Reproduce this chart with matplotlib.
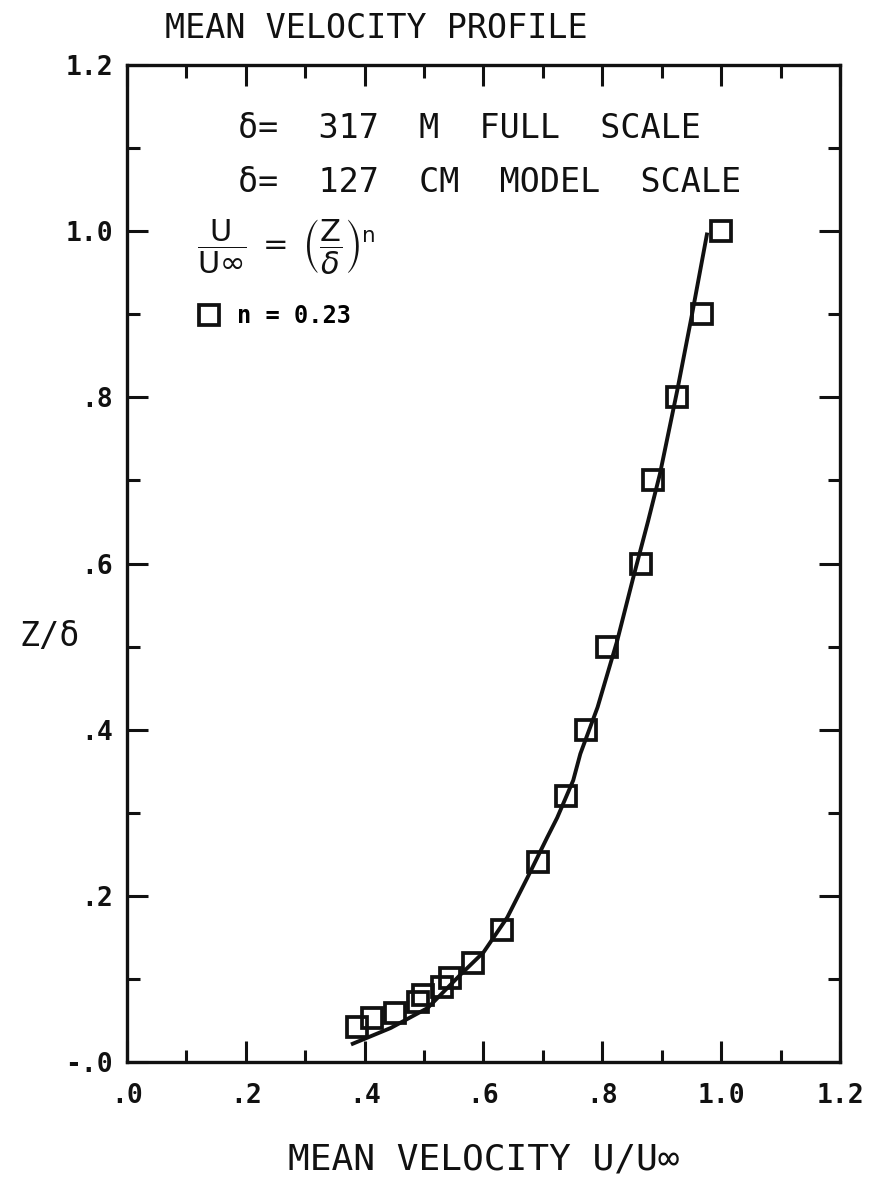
import matplotlib
matplotlib.use('Agg')
import matplotlib.pyplot as plt
from matplotlib.ticker import MultipleLocator

u_data = [0.387, 0.412, 0.451, 0.490, 0.498, 0.530, 0.544, 0.582, 0.631,
          0.692, 0.739, 0.773, 0.808, 0.865, 0.886, 0.926, 0.968, 1.000]
z_data = [0.042, 0.053, 0.059, 0.072, 0.081, 0.090, 0.101, 0.119, 0.159,
          0.241, 0.320, 0.400, 0.499, 0.600, 0.700, 0.800, 0.900, 1.000]

# Fitted curve
fit_u = [0.380, 0.444, 0.506, 0.561, 0.600, 0.640, 0.674, 0.707, 0.724,
         0.751, 0.763, 0.792, 0.825, 0.852, 0.877, 0.897, 0.926, 0.951, 0.976]
fit_z = [0.022, 0.041, 0.065, 0.105, 0.132, 0.174, 0.222, 0.270, 0.294,
         0.339, 0.371, 0.427, 0.507, 0.583, 0.651, 0.708, 0.808, 0.900, 0.996]

x_ticks = [0.0, 0.2, 0.4, 0.6, 0.8, 1.0, 1.2]
x_tick_labels = ['.0', '.2', '.4', '.6', '.8', '1.0', '1.2']
y_ticks = [0.0, 0.2, 0.4, 0.6, 0.8, 1.0, 1.2]
y_tick_labels = ['-.0', '.2', '.4', '.6', '.8', '1.0', '1.2']

plt.rcParams['font.family'] = ['DejaVu Sans Mono', 'DejaVu Sans']
plt.rcParams['mathtext.fontset'] = 'dejavusans'

ink = '#111111'
W, H = 878, 1181

fig = plt.figure(figsize=(W / 100, H / 100), dpi=100)
ax = fig.add_axes([127 / W, 1 - 1062 / H, 713 / W, 997 / H])

# curve and data
ax.plot(fit_u, fit_z, color=ink, lw=2.8)
ax.plot(u_data, z_data, ls='none', marker='s', ms=14, mfc='none',
        mec=ink, mew=2.7, label='n = 0.23')

ax.set_xlim(0, 1.2)
ax.set_ylim(0, 1.2)
ax.set_xticks(x_ticks, x_tick_labels)
ax.set_yticks(y_ticks, y_tick_labels)
ax.xaxis.set_minor_locator(MultipleLocator(0.1))
ax.yaxis.set_minor_locator(MultipleLocator(0.1))
ax.tick_params(which='both', direction='in', top=True, right=True,
               width=2.2, color=ink, labelcolor=ink)
ax.tick_params(which='major', length=15)
ax.tick_params(which='minor', length=9)
ax.tick_params(axis='x', labelsize=19, pad=15)
ax.tick_params(axis='y', labelsize=19, pad=10)
for lbl in ax.get_xticklabels() + ax.get_yticklabels():
    lbl.set_fontweight('bold')
for s in ax.spines.values():
    s.set_linewidth(2.4)
    s.set_color(ink)

# labels
ax.set_xlabel('MEAN VELOCITY U/U∞', fontsize=26, color=ink, va='center')
ax.xaxis.set_label_coords(0.5, -0.098)
ax.set_ylabel('Z/δ', rotation=0, fontsize=24, color=ink, va='center', ha='center')
ax.yaxis.set_label_coords(-0.109, 0.427)

fig.text(165 / W, 1 - 28 / H, 'MEAN VELOCITY PROFILE', fontsize=24,
         va='center', ha='left', color=ink)

# annotations inside the frame
fig.text(238 / W, 1 - 138 / H, 'δ=  317  M  FULL  SCALE', fontsize=24,
         va='baseline', color=ink)
fig.text(238 / W, 1 - 192 / H, 'δ=  127  CM  MODEL  SCALE', fontsize=24,
         va='baseline', color=ink)
fig.text(286 / W, 1 - 246 / H,
         r'$\dfrac{\ \mathrm{U}\ }{\mathrm{U}\infty}\;=\;'
         r'\left(\dfrac{\mathrm{Z}}{\delta}\right)^{\mathrm{n}}$',
         fontsize=22, ha='center', va='center', color=ink)

ax.legend(loc='center left', bbox_to_anchor=(197 / W, 1 - 316 / H),
          bbox_transform=fig.transFigure, frameon=False, handlelength=1.0,
          handletextpad=0.7, borderpad=0, borderaxespad=0, numpoints=1,
          prop={'family': 'DejaVu Sans Mono', 'weight': 'bold', 'size': 17})

fig.savefig('out.png', dpi=100)
